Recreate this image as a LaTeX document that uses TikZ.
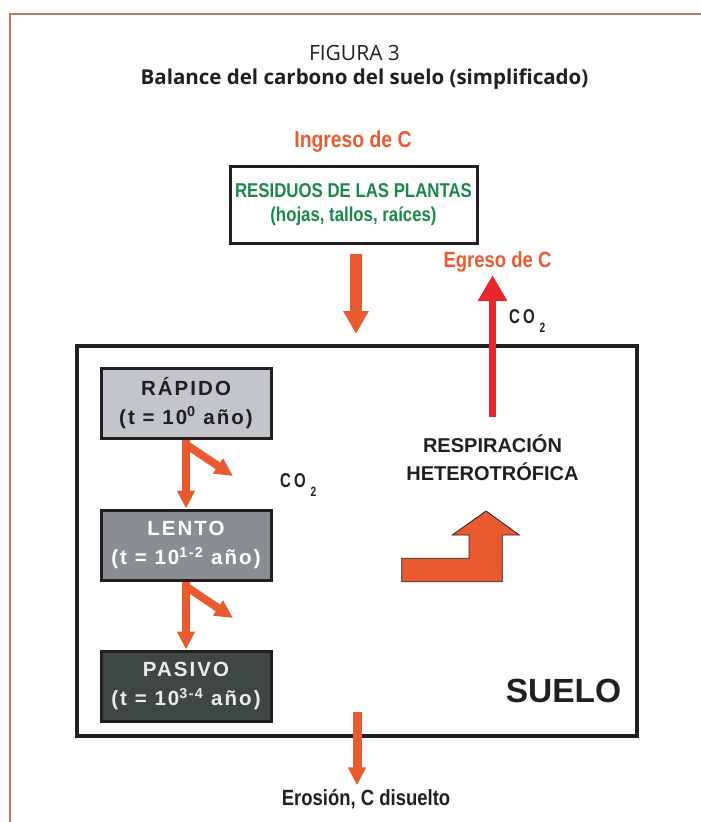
\documentclass[tikz,border=0pt]{standalone}
\usepackage{fontspec}
\setmainfont{Liberation Sans}
\newfontfamily\titlefont{Open Sans}
\newfontfamily\narrowfont{Liberation Sans}[FakeStretch=0.84]
\newfontfamily\cofont{Liberation Sans}[FakeStretch=0.75]
\newfontfamily\boxfont{Liberation Sans}[LetterSpace=10]
\usepackage{tikz}
\usetikzlibrary{arrows.meta,positioning}

\definecolor{naranja}{HTML}{EA5A2F}
\definecolor{rojo}{HTML}{E8262D}
\definecolor{verde}{HTML}{17894A}
\definecolor{marco}{HTML}{B97A63}
\definecolor{gris1}{HTML}{C2C5CA}
\definecolor{gris2}{HTML}{8A8D91}
\definecolor{gris3}{HTML}{3E4646}
\definecolor{tinta}{HTML}{231F20}

\newcommand\cotwo{C\kern3pt O\kern5pt\raisebox{-9pt}{\fontsize{13.5}{13.5}\selectfont 2}}

\begin{document}
\begin{tikzpicture}[x=1pt,y=-1pt,
    caja/.style={draw=tinta, line width=3pt, minimum width=170pt, minimum height=70pt,
        inner sep=0pt, align=center, font=\boxfont\bfseries\fontsize{20.5}{29}\selectfont},
    flecha/.style={naranja, line width=8pt, -{Triangle[width=17pt,length=18pt]}},
    flechag/.style={naranja, line width=12pt, -{Triangle[width=24pt,length=23pt]}},
    rotulo/.style={anchor=base, font=\narrowfont\bfseries\fontsize{22}{26}\selectfont},
    co/.style={text=tinta, font=\cofont\bfseries\fontsize{20}{22}\selectfont}]
    \useasboundingbox (0,0) rectangle (701,822);
    \draw[marco, line width=2pt] (10,822) -- (10,13.5) -- (701,13.5);

    % titulo
    \node[anchor=base, font=\titlefont\fontsize{21}{24}\selectfont, text=tinta] (fig) at (354.5,60) {FIGURA 3};
    \node[anchor=base, font=\titlefont\bfseries\fontsize{20.5}{24}\selectfont, text=tinta] (titulo) at (364.5,84)
        {Balance del carbono del suelo (simplificado)};

    % entrada
    \node[rotulo, text=naranja, font=\narrowfont\bfseries\fontsize{23}{26}\selectfont] (ingreso) at (353,147) {Ingreso de C};
    \node[draw=tinta, line width=3pt, minimum width=247pt, minimum height=77pt, inner sep=0pt,
        text=verde, align=center, font=\narrowfont\bfseries\fontsize{20}{24}\selectfont]
        (residuos) at (353.5,204.5) {RESIDUOS DE LAS PLANTAS\\(hojas, tallos, raíces)};

    % suelo
    \node[draw=tinta, line width=4pt, minimum width=560pt, minimum height=390pt, inner sep=0pt] (suelo) at (357,541) {};
    \node[anchor=base, text=tinta, font=\bfseries\fontsize{33.5}{36}\selectfont] (suelotxt) at (563.5,702) {SUELO};
    \draw[flechag, shorten <=9pt, shorten >=10pt] ([xshift=2.5pt]residuos.south) -- ([xshift=2.5pt]residuos.south |- suelo.north);

    % reservorios
    \node[caja, fill=gris1, text=tinta] (rapido) at (186,403) {RÁPIDO\\(t = 10\textsuperscript{0} año)};
    \node[caja, fill=gris2, text=white] (lento) at (186,545) {LENTO\\(t = 10\textsuperscript{1-2} año)};
    \node[caja, fill=gris3, text=white!92!black] (pasivo) at (186,686) {PASIVO\\(t = 10\textsuperscript{3-4} año)};

    \coordinate (co2a) at (233,476);
    \coordinate (co2b) at (233,618);
    \draw[flecha] (rapido.south) -- (lento.north);
    \draw[flecha] ([yshift=-5pt]rapido.south) -- (co2a);
    \draw[flecha] (lento.south) -- (pasivo.north);
    \draw[flecha] ([yshift=-5pt]lento.south) -- (co2b);
    \node[co, anchor=base west, inner sep=0pt] (co2mid) at (280,487) {\cotwo};

    % respiracion
    \node[anchor=base, align=center, text=tinta, font=\bfseries\fontsize{20}{28}\selectfont] (resp) at (492.5,480)
        {RESPIRACIÓN\\HETEROTRÓFICA};
    \draw[fill=naranja, draw=tinta, line width=0.8pt] (401.7,581.7) -- (401.7,558.3) -- (469,558.3) -- (469,535)
        -- (452.3,535) -- (486,511) -- (519.3,535) -- (502.3,535) -- (502.3,581.7) -- cycle;

    % salida
    \node[rotulo, text=naranja] (egreso) at (497.5,267) {Egreso de C};
    \draw[rojo, line width=7pt, -{Triangle[width=28pt,length=26pt]}, shorten <=14pt]
        (resp.north) -- (resp.north |- egreso.south);
    \node[co, anchor=base west, inner sep=0pt] (co2top) at (509,323) {\cotwo};

    \coordinate (fuga) at (357,712);
    \node[rotulo, text=tinta, font=\narrowfont\bfseries\fontsize{22}{24}\selectfont] (erosion) at (366,805) {Erosión, C disuelto};
    \draw[flecha, line width=9pt] (fuga) -- (fuga |- erosion.north);
\end{tikzpicture}
\end{document}
